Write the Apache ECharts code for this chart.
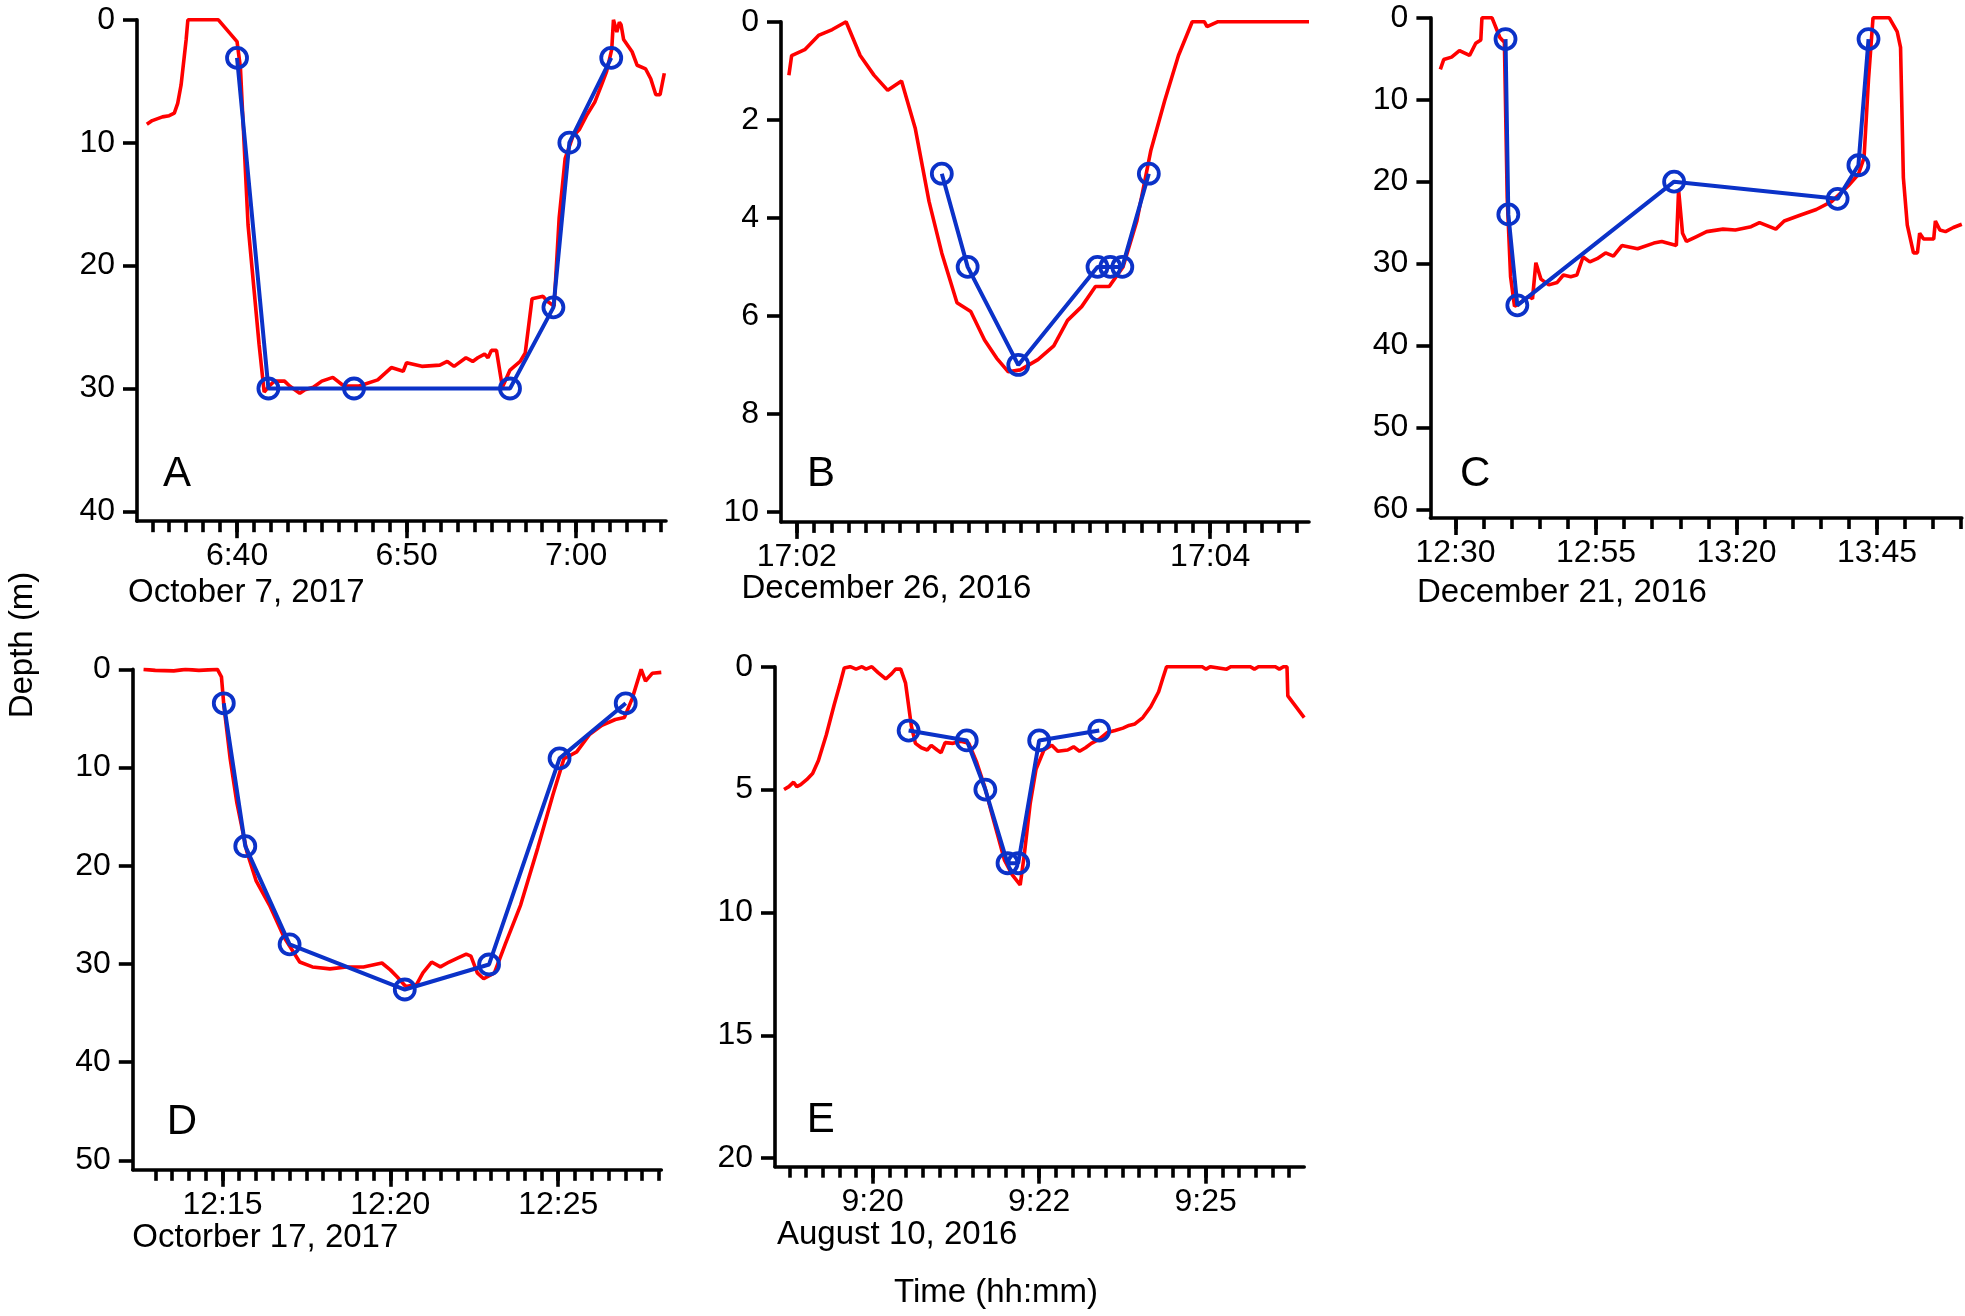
<!DOCTYPE html>
<html><head><meta charset="utf-8">
<script src="https://cdn.jsdelivr.net/npm/echarts@6/dist/echarts.min.js"></script>
<style>html,body{margin:0;padding:0;background:#fff}#c{width:1965px;height:1316px}</style>
</head><body><div id="c"></div>
<script>
// ---------- DATA ----------
// Panel A: time in minutes since 00:00, depth in m
const aTraceT = [394.68,395.0,395.2,395.6,396.0,396.3,396.5,396.7,397.0,397.1,398.9,400.0,400.2,400.65,401.3,401.6,401.9,402.2,402.8,403.1,403.7,404.0,404.5,405.0,405.65,406.3,407.2,408.3,409.1,409.8,410.0,410.9,411.96,412.4,412.8,413.5,413.9,414.2,414.6,414.8,415.0,415.3,415.65,416.1,416.7,417.0,417.4,418.05,418.3,418.7,419.0,419.35,419.8,420.2,420.65,421.1,421.5,421.8,422.1,422.2,422.4,422.55,422.65,422.8,423.3,423.6,424.1,424.4,424.7,424.95,425.2];
const aTraceD = [8.5,8.2,8.1,7.9,7.8,7.6,6.8,5.3,1.6,0,0,1.77,3.9,16.7,26.4,30.3,29.8,29.4,29.4,29.8,30.4,30.1,29.9,29.4,29.1,29.8,29.8,29.3,28.3,28.6,27.9,28.2,28.1,27.8,28.2,27.5,27.8,27.5,27.2,27.5,26.9,26.9,29.9,28.5,27.8,27.1,22.7,22.5,22.9,23.3,16.1,11.3,9.5,8.9,7.7,6.7,5.3,4.2,2.4,0,1.0,0.2,0.4,1.6,2.6,3.7,4.0,4.8,6.1,6.1,4.35];
const aDiveT = [400.0,401.85,406.9,416.1,418.66,419.6,422.07];
const aDiveD = [3.1,30,30,30,23.4,10,3.1];
const aYTicks = [0,10,20,30,40];
const aXMinor = [395,396,397,398,399,400,401,402,403,404,405,406,407,408,409,410,411,412,413,414,415,416,417,418,419,420,421,422,423,424,425];
const aXMajor = [400,410,420];
const aXLabels = ['6:40','6:50','7:00'];

// Panel B: time in seconds after 17:02:00
const bTraceT = [-2.3,-1.5,2.3,6.3,10.3,14.3,18.4,22.4,26.4,30.4,34.4,38.4,42.1,46.5,50.5,54.5,58.0,61.4,64.9,70.0,74.6,78.6,82.7,86.7,90.7,94.7,98.7,102.8,106.8,110.8,114.8,118.3,119.1,122.3,148.7];
const bTraceD = [1.09,0.69,0.57,0.28,0.16,0,0.69,1.09,1.40,1.21,2.18,3.67,4.72,5.73,5.91,6.49,6.86,7.14,7.1,6.89,6.61,6.09,5.81,5.4,5.4,5.0,4.07,2.62,1.61,0.69,0,0,0.1,0,0];
const bDiveT = [42.1,49.6,64.3,87.3,91.0,94.5,102.2];
const bDiveD = [3.1,5.0,7.0,5.0,5.0,5.0,3.1];
const bYTicks = [0,2,4,6,8,10];
const bXMinor = [0,5,10,15,20,25,30,35,40,45,50,55,60,65,70,75,80,85,90,95,100,105,110,115,120,125,130,135,140,145];
const bXMajor = [0,120];
const bXLabels = ['17:02','17:04'];

// Panel C: time in minutes after 12:00
const cTraceT = [27.3,27.9,29.3,30.7,32.5,33.6,34.5,34.7,36.5,37.9,38.7,39.2,39.8,40.5,41.1,43.0,43.7,44.3,45.2,46.6,48.1,49.2,50.5,51.6,52.7,53.9,55.2,56.7,58.1,59.6,62.4,65.3,66.7,69.3,69.7,70.4,71.1,72.9,74.7,77.6,79.8,82.6,84.1,87.0,88.5,91.3,94.2,97.0,99.9,101.7,102.7,103.5,104.3,107.2,108.6,109.2,109.7,110.4,111.5,112.2,112.6,113.3,115.1,115.4,116.2,117.2,118.6,120.1];
const cTraceD = [6.3,5.1,4.8,4.0,4.6,3.1,2.7,0,0,2.4,3.0,22,31.6,35.2,35,34.0,34.3,29.9,31.9,32.6,32.3,31.4,31.6,31.4,29.2,29.8,29.4,28.7,29.1,27.8,28.2,27.5,27.3,27.8,21.0,26.3,27.3,26.7,26.1,25.8,25.9,25.5,25.0,25.8,24.8,24.1,23.4,22.4,20.5,19.1,17.1,7.5,0,0,1.7,3.6,19.5,25.3,28.7,28.7,26.3,27.0,27.0,24.8,25.9,26.1,25.6,25.2];
const cDiveT = [38.9,39.4,41.0,68.9,98.0,101.7,103.5];
const cDiveD = [2.6,24.0,35.1,20.0,22.1,18.0,2.6];
const cYTicks = [0,10,20,30,40,50,60];
const cXMinor = [30,35,40,45,50,55,60,65,70,75,80,85,90,95,100,105,110,115,120];
const cXMajor = [30,55,80,105];
const cXLabels = ['12:30','12:55','13:20','13:45'];

// Panel D: time in minutes after 12:00
const dTraceT = [12.65,13.0,13.55,13.9,14.3,14.85,14.97,15.04,15.23,15.43,15.73,16.0,16.4,16.84,17.3,17.68,18.2,18.7,19.2,19.75,20.0,20.2,20.46,20.78,20.97,21.23,21.49,21.75,22.0,22.26,22.4,22.59,22.78,23.1,23.42,23.88,24.39,24.84,25.17,25.55,25.94,26.3,26.7,26.97,27.2,27.47,27.6,27.8,28.07];
const dTraceD = [0,0.1,0.15,0,0.1,0,0.75,3.6,9.1,13.6,18.6,21.5,24.0,27.3,29.8,30.3,30.5,30.3,30.3,29.9,30.6,31.3,32.3,32.1,30.9,29.8,30.3,29.8,29.4,29.0,29.2,30.9,31.5,30.9,28,24.0,18.2,12.8,9.1,8.4,6.6,5.7,5.1,4.9,3.0,0,1.2,0.4,0.3];
const dDiveT = [15.04,15.68,17.0,20.43,22.94,25.04,27.01];
const dDiveD = [3.45,18.0,28.0,32.6,30.05,9.06,3.45];
const dYTicks = [0,10,20,30,40,50];
const dXMinor = [13,13.5,14,14.5,15,15.5,16,16.5,17,17.5,18,18.5,19,19.5,20,20.5,21,21.5,22,22.5,23,23.5,24,24.5,25,25.5,26,26.5,27,27.5,28];
const dXMajor = [15,20,25];
const dXLabels = ['12:15','12:20','12:25'];

// Panel E: time in seconds after 9:20:00
const eTraceT = [-63.9,-60.4,-57.0,-54.7,-51.9,-47.6,-43.3,-39.1,-33.4,-27.7,-23.4,-20.5,-16.2,-12.0,-7.7,-4.8,-0.6,3.7,9.4,13.7,16.5,20.2,23.7,27.9,30.8,35.1,39.3,42.2,46.5,49.3,52.2,57.9,63.6,69.3,75.0,80.7,86.4,90.7,94.9,100.6,106.3,109.2,113.5,117.7,123.4,129.1,133.4,140.5,144.8,149.1,153.4,157.6,163.3,169.0,174.7,180.4,184.7,189.0,194.7,200.4,206.1,209.0,211.8,237.5,240.3,243.2,255.1,258.0,272.2,275.1,278.0,290.2,293.1,296.0,298.6,299.2,311.0];
const eTraceD = [5.0,4.88,4.7,4.88,4.8,4.6,4.35,3.82,2.77,1.54,0.67,0.05,0,0.1,0,0.1,0,0.23,0.5,0.28,0.1,0.1,0.67,2.42,3.12,3.3,3.39,3.2,3.39,3.5,3.09,3.12,3.03,3.12,3.9,4.88,6.1,6.98,7.86,8.47,8.88,7.68,5.58,4.18,3.39,3.2,3.44,3.39,3.26,3.44,3.3,3.12,2.95,2.68,2.6,2.5,2.39,2.33,2.07,1.63,1.02,0.49,0,0,0.1,0,0.1,0,0,0.1,0,0,0.1,0,0,1.19,2.07];
const eDiveT = [25.9,67.8,81.2,97.2,104.9,120.0,163.3];
const eDiveD = [2.6,3.0,5.0,8.0,8.0,3.0,2.6];
const eYTicks = [0,5,10,15,20];
const eXMinor = [-60,-48,-36,-24,-12,0,12,24,36,48,60,72,84,96,108,120,132,144,156,168,180,192,204,216,228,240,252,264,276,288,300];
const eXMajor = [0,120,240];
const eXLabels = ['9:20','9:22','9:25'];

const panelLetters = ['A','B','C','D','E'];
const dateLabels = ['October 7, 2017','December 26, 2016','December 21, 2016','Octorber 17, 2017','August 10, 2016'];
const yTitle = 'Depth (m)';
const xTitle = 'Time (hh:mm)';

// ---------- LAYOUT ----------
const FONT = '"Liberation Sans", Arial, Helvetica, sans-serif';
const RED = '#ff0000';
const BLUE = '#0b32c8';
const layout = [
  {l:137, t:19.8, r:666, b:521.2, xmin:394.1, xmax:425.3, ymax:40.8, lx:163, ly:474, dx:128, dy:593},
  {l:781, t:21.7, r:1309, b:521.9, xmin:-4.59, xmax:148.7, ymax:10.2, lx:807, ly:474, dx:741.5, dy:589},
  {l:1430.4, t:17.8, r:1961.8, b:518, xmin:25.53, xmax:120.1, ymax:61.06, lx:1460, ly:474, dx:1417, dy:593},
  {l:132.8, t:669.4, r:661.3, b:1169.8, xmin:12.33, xmax:28.07, ymax:50.96, lx:166.7, ly:1122, dx:132.3, dy:1238},
  {l:775, t:666.7, r:1304.2, b:1166.7, xmin:-70.4, xmax:311, ymax:20.35, lx:806.8, ly:1120.6, dx:777, dy:1235}
];
const panels = [
  {tt:aTraceT, td:aTraceD, pt:aDiveT, pd:aDiveD, yt:aYTicks, xm:aXMinor, xM:aXMajor, xl:aXLabels},
  {tt:bTraceT, td:bTraceD, pt:bDiveT, pd:bDiveD, yt:bYTicks, xm:bXMinor, xM:bXMajor, xl:bXLabels},
  {tt:cTraceT, td:cTraceD, pt:cDiveT, pd:cDiveD, yt:cYTicks, xm:cXMinor, xM:cXMajor, xl:cXLabels},
  {tt:dTraceT, td:dTraceD, pt:dDiveT, pd:dDiveD, yt:dYTicks, xm:dXMinor, xM:dXMajor, xl:dXLabels},
  {tt:eTraceT, td:eTraceD, pt:eDiveT, pd:eDiveD, yt:eYTicks, xm:eXMinor, xM:eXMajor, xl:eXLabels}
];

const grids = [], xAxes = [], yAxes = [], series = [], graphics = [];
const black = {color:'#000', width:3.6};
panels.forEach((p, i) => {
  const L = layout[i];
  grids.push({left:L.l, top:L.t, width:L.r - L.l, height:L.b - L.t, containLabel:false});
  yAxes.push({
    gridIndex:i, type:'value', inverse:true, min:0, max:L.ymax,
    axisLine:{show:true, onZero:false, lineStyle:black},
    axisTick:{show:true, customValues:p.yt, length:14, lineStyle:black},
    axisLabel:{customValues:p.yt, fontSize:32, fontFamily:FONT, color:'#000', margin:22},
    splitLine:{show:false}
  });
  xAxes.push({
    gridIndex:i, type:'value', position:'bottom', min:L.xmin, max:L.xmax,
    axisLine:{show:true, onZero:false, lineStyle:black},
    axisTick:{show:true, customValues:p.xm, length:11, lineStyle:black},
    axisLabel:{show:false}, splitLine:{show:false}
  });
  xAxes.push({
    gridIndex:i, type:'value', position:'bottom', min:L.xmin, max:L.xmax,
    axisLine:{show:false, onZero:false},
    axisTick:{show:true, customValues:p.xM, length:17, lineStyle:black},
    axisLabel:{customValues:p.xM, fontSize:32, fontFamily:FONT, color:'#000', margin:19,
      formatter:(v) => { const k = p.xM.indexOf(v); return k >= 0 ? p.xl[k] : ''; }},
    splitLine:{show:false}
  });
  series.push({
    type:'line', xAxisIndex:2*i, yAxisIndex:i, showSymbol:false, symbol:'none',
    data:p.tt.map((t, k) => [t, p.td[k]]),
    lineStyle:{color:RED, width:3.6}, itemStyle:{color:RED}, z:2, silent:true
  });
  series.push({
    type:'line', xAxisIndex:2*i, yAxisIndex:i, symbol:'circle', symbolSize:20,
    data:p.pt.map((t, k) => [t, p.pd[k]]),
    lineStyle:{color:BLUE, width:4},
    itemStyle:{color:'rgba(0,0,0,0)', borderColor:BLUE, borderWidth:3.8}, z:3, silent:true
  });
  graphics.push({type:'text', x:L.lx, y:L.ly, style:{text:panelLetters[i], fontSize:42, fontFamily:FONT, fill:'#000', align:'left', verticalAlign:'middle'}});
  graphics.push({type:'text', x:L.dx, y:L.dy, style:{text:dateLabels[i], fontSize:33, fontFamily:FONT, fill:'#000', align:'left', verticalAlign:'middle'}});
});
graphics.push({type:'text', x:23, y:645, rotation:Math.PI/2, style:{text:yTitle, fontSize:33, fontFamily:FONT, fill:'#000', align:'center', verticalAlign:'middle'}});
graphics.push({type:'text', x:996, y:1293, style:{text:xTitle, fontSize:33, fontFamily:FONT, fill:'#000', align:'center', verticalAlign:'middle'}});

const chart = echarts.init(document.getElementById('c'), null, {renderer:'canvas', width:1965, height:1316});
chart.setOption({
  animation:false, backgroundColor:'#fff',
  grid:grids, xAxis:xAxes, yAxis:yAxes, series:series, graphic:graphics
});
</script></body></html>
